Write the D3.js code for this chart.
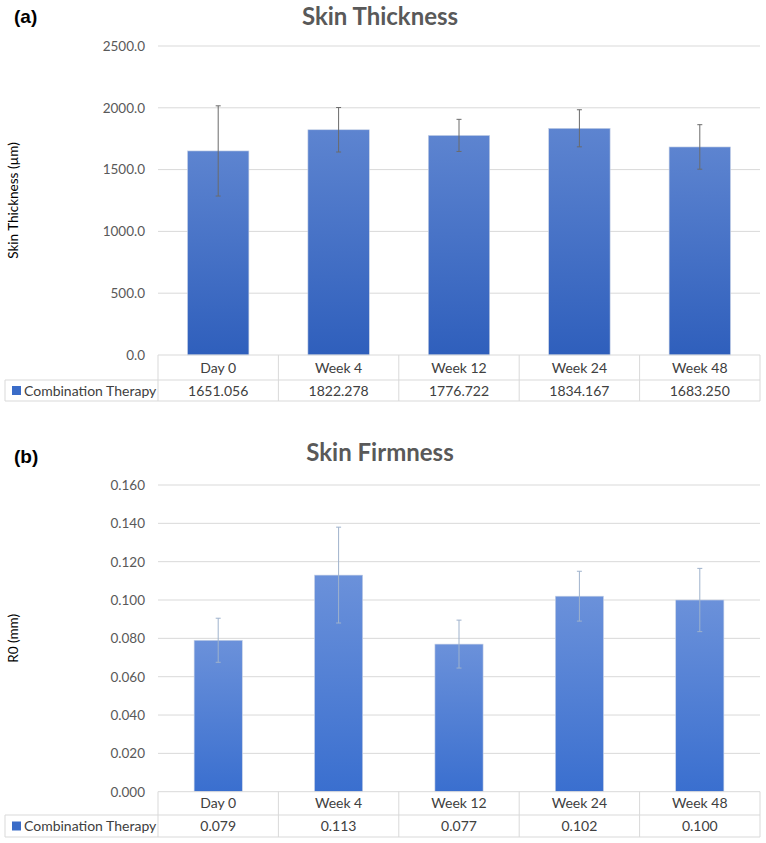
<!DOCTYPE html>
<html>
<head>
<meta charset="utf-8">
<script src="https://cdn.jsdelivr.net/npm/d3@7"></script>
<style>
  html, body { margin: 0; padding: 0; background: #fff; }
  svg { display: block; }
  text { font-family: Lato, "Open Sans", sans-serif; }
</style>
</head>
<body>
<svg id="chart" width="766" height="843"></svg>
<script>
// ---- Data ----
const categories = ["Day 0", "Week 4", "Week 12", "Week 24", "Week 48"];
const seriesName = "Combination Therapy";

const thicknessMean = [1651.056, 1822.278, 1776.722, 1834.167, 1683.250];
const thicknessSD   = [365, 180, 130, 150, 180];
const thicknessTicks = [0, 500, 1000, 1500, 2000, 2500];

const firmnessMean = [0.079, 0.113, 0.077, 0.102, 0.100];
const firmnessSD   = [0.0115, 0.025, 0.0125, 0.013, 0.0165];
const firmnessTicks = [0, 0.02, 0.04, 0.06, 0.08, 0.10, 0.12, 0.14, 0.16];

const svg = d3.select("#chart");
const defs = svg.append("defs");

function gradient(id, top, bottom) {
  const g = defs.append("linearGradient").attr("id", id)
    .attr("x1", 0).attr("y1", 0).attr("x2", 0).attr("y2", 1);
  g.append("stop").attr("offset", "0%").attr("stop-color", top);
  g.append("stop").attr("offset", "100%").attr("stop-color", bottom);
}
gradient("gradA", "#5d84d0", "#2f5fbc");
gradient("gradB", "#6b91da", "#3a6fcf");

function panel(opt) {
  const g = svg.append("g");
  const x0 = 158, x1 = 760;
  const y = d3.scaleLinear().domain([0, opt.ticks[opt.ticks.length - 1]])
    .range([opt.yBottom, opt.yTop]);
  const xBar = d3.scaleBand().domain(categories).range([x0, x1])
    .paddingInner(opt.pad).paddingOuter(opt.pad / 2);
  const xCell = d3.scaleBand().domain(categories).range([x0, x1]);

  // panel label
  g.append("text").attr("x", 14).attr("y", opt.labelY)
    .style("font-family", "Liberation Sans, Arial, sans-serif")
    .style("font-weight", "bold").style("font-size", "19px").attr("fill", "#000")
    .text(opt.label);

  // title
  g.append("text").attr("x", 380).attr("y", opt.titleY).attr("text-anchor", "middle")
    .style("font-weight", "bold").style("font-size", "24px").attr("fill", "#595959")
    .text(opt.title);

  // gridlines
  g.append("g").selectAll("line").data(opt.ticks.slice(1)).join("line")
    .attr("x1", x0).attr("x2", x1)
    .attr("y1", d => y(d)).attr("y2", d => y(d))
    .attr("stroke", "#d9d9d9").attr("stroke-width", 1);

  // y axis
  const ax = g.append("g").attr("transform", `translate(${x0},0)`)
    .call(d3.axisLeft(y).tickValues(opt.ticks).tickFormat(d3.format(opt.fmt)).tickSize(0).tickPadding(13));
  ax.select(".domain").remove();
  ax.selectAll("text").style("font-family", "Lato, sans-serif").style("font-size", "13.5px").attr("fill", "#595959");

  // y title
  g.append("text")
    .attr("transform", `translate(18,${(opt.yTop + opt.yBottom) / 2}) rotate(-90)`)
    .attr("text-anchor", "middle").style("font-size", "13.5px").attr("fill", "#000")
    .text(opt.yTitle);

  // bars
  g.append("g").selectAll("rect").data(opt.mean).join("rect")
    .attr("x", (d, i) => xBar(categories[i]))
    .attr("width", xBar.bandwidth())
    .attr("y", d => y(d))
    .attr("height", d => y(0) - y(d))
    .attr("fill", `url(#${opt.grad})`)
    .attr("stroke", "#c9d3e6").attr("stroke-width", 0.6);

  // error bars
  const eb = g.append("g").attr("stroke", opt.errColor).attr("stroke-width", 1);
  opt.mean.forEach((m, i) => {
    const cx = xBar(categories[i]) + xBar.bandwidth() / 2;
    const top = y(m + opt.sd[i]), bot = y(m - opt.sd[i]);
    eb.append("line").attr("x1", cx).attr("x2", cx).attr("y1", top).attr("y2", bot);
    eb.append("line").attr("x1", cx - 2.5).attr("x2", cx + 2.5).attr("y1", top).attr("y2", top);
    eb.append("line").attr("x1", cx - 2.5).attr("x2", cx + 2.5).attr("y1", bot).attr("y2", bot);
  });

  // data table
  const r0 = opt.yBottom, r1 = opt.row1, r2 = opt.row2;
  const tg = g.append("g").attr("stroke", "#d9d9d9").attr("stroke-width", 1);
  tg.append("line").attr("x1", x0).attr("x2", x1).attr("y1", r0).attr("y2", r0);
  tg.append("line").attr("x1", 5).attr("x2", x1).attr("y1", r1).attr("y2", r1);
  tg.append("line").attr("x1", 5).attr("x2", x1).attr("y1", r2).attr("y2", r2);
  tg.append("line").attr("x1", 5).attr("x2", 5).attr("y1", r1).attr("y2", r2);
  const vx = categories.map(c => xCell(c)).concat([x1]);
  tg.selectAll(".v").data(vx).join("line").attr("class", "v")
    .attr("x1", d => d).attr("x2", d => d).attr("y1", r0).attr("y2", r2);

  g.append("g").selectAll("text").data(categories).join("text")
    .attr("x", d => xCell(d) + xCell.bandwidth() / 2)
    .attr("y", (r0 + r1) / 2 + 5).attr("text-anchor", "middle")
    .style("font-size", "14px").attr("fill", "#404040").text(d => d);

  g.append("g").selectAll("text").data(opt.mean).join("text")
    .attr("x", (d, i) => xCell(categories[i]) + xCell.bandwidth() / 2)
    .attr("y", (r1 + r2) / 2 + 5).attr("text-anchor", "middle")
    .style("font-size", "14px").attr("fill", "#404040").text(d => d3.format(opt.valFmt)(d));

  g.append("rect").attr("x", 12).attr("y", (r1 + r2) / 2 - 4.5).attr("width", 9).attr("height", 9)
    .attr("fill", "#3a6cc8");
  g.append("text").attr("x", 24).attr("y", (r1 + r2) / 2 + 5)
    .style("font-size", "14px").attr("fill", "#404040").text(seriesName);
}

panel({
  label: "(a)", labelY: 23, title: "Skin Thickness", titleY: 25,
  ticks: thicknessTicks, fmt: ".1f", valFmt: ".3f",
  yTop: 46, yBottom: 355, row1: 380, row2: 401,
  yTitle: "Skin Thickness (µm)", mean: thicknessMean, sd: thicknessSD,
  pad: 0.49, grad: "gradA", errColor: "#6b6b6b"
});

panel({
  label: "(b)", labelY: 463, title: "Skin Firmness", titleY: 461,
  ticks: firmnessTicks, fmt: ".3f", valFmt: ".3f",
  yTop: 485, yBottom: 791.7, row1: 815, row2: 837,
  yTitle: "R0 (mm)", mean: firmnessMean, sd: firmnessSD,
  pad: 0.6, grad: "gradB", errColor: "#9fb2cc"
});
</script>
</body>
</html>
